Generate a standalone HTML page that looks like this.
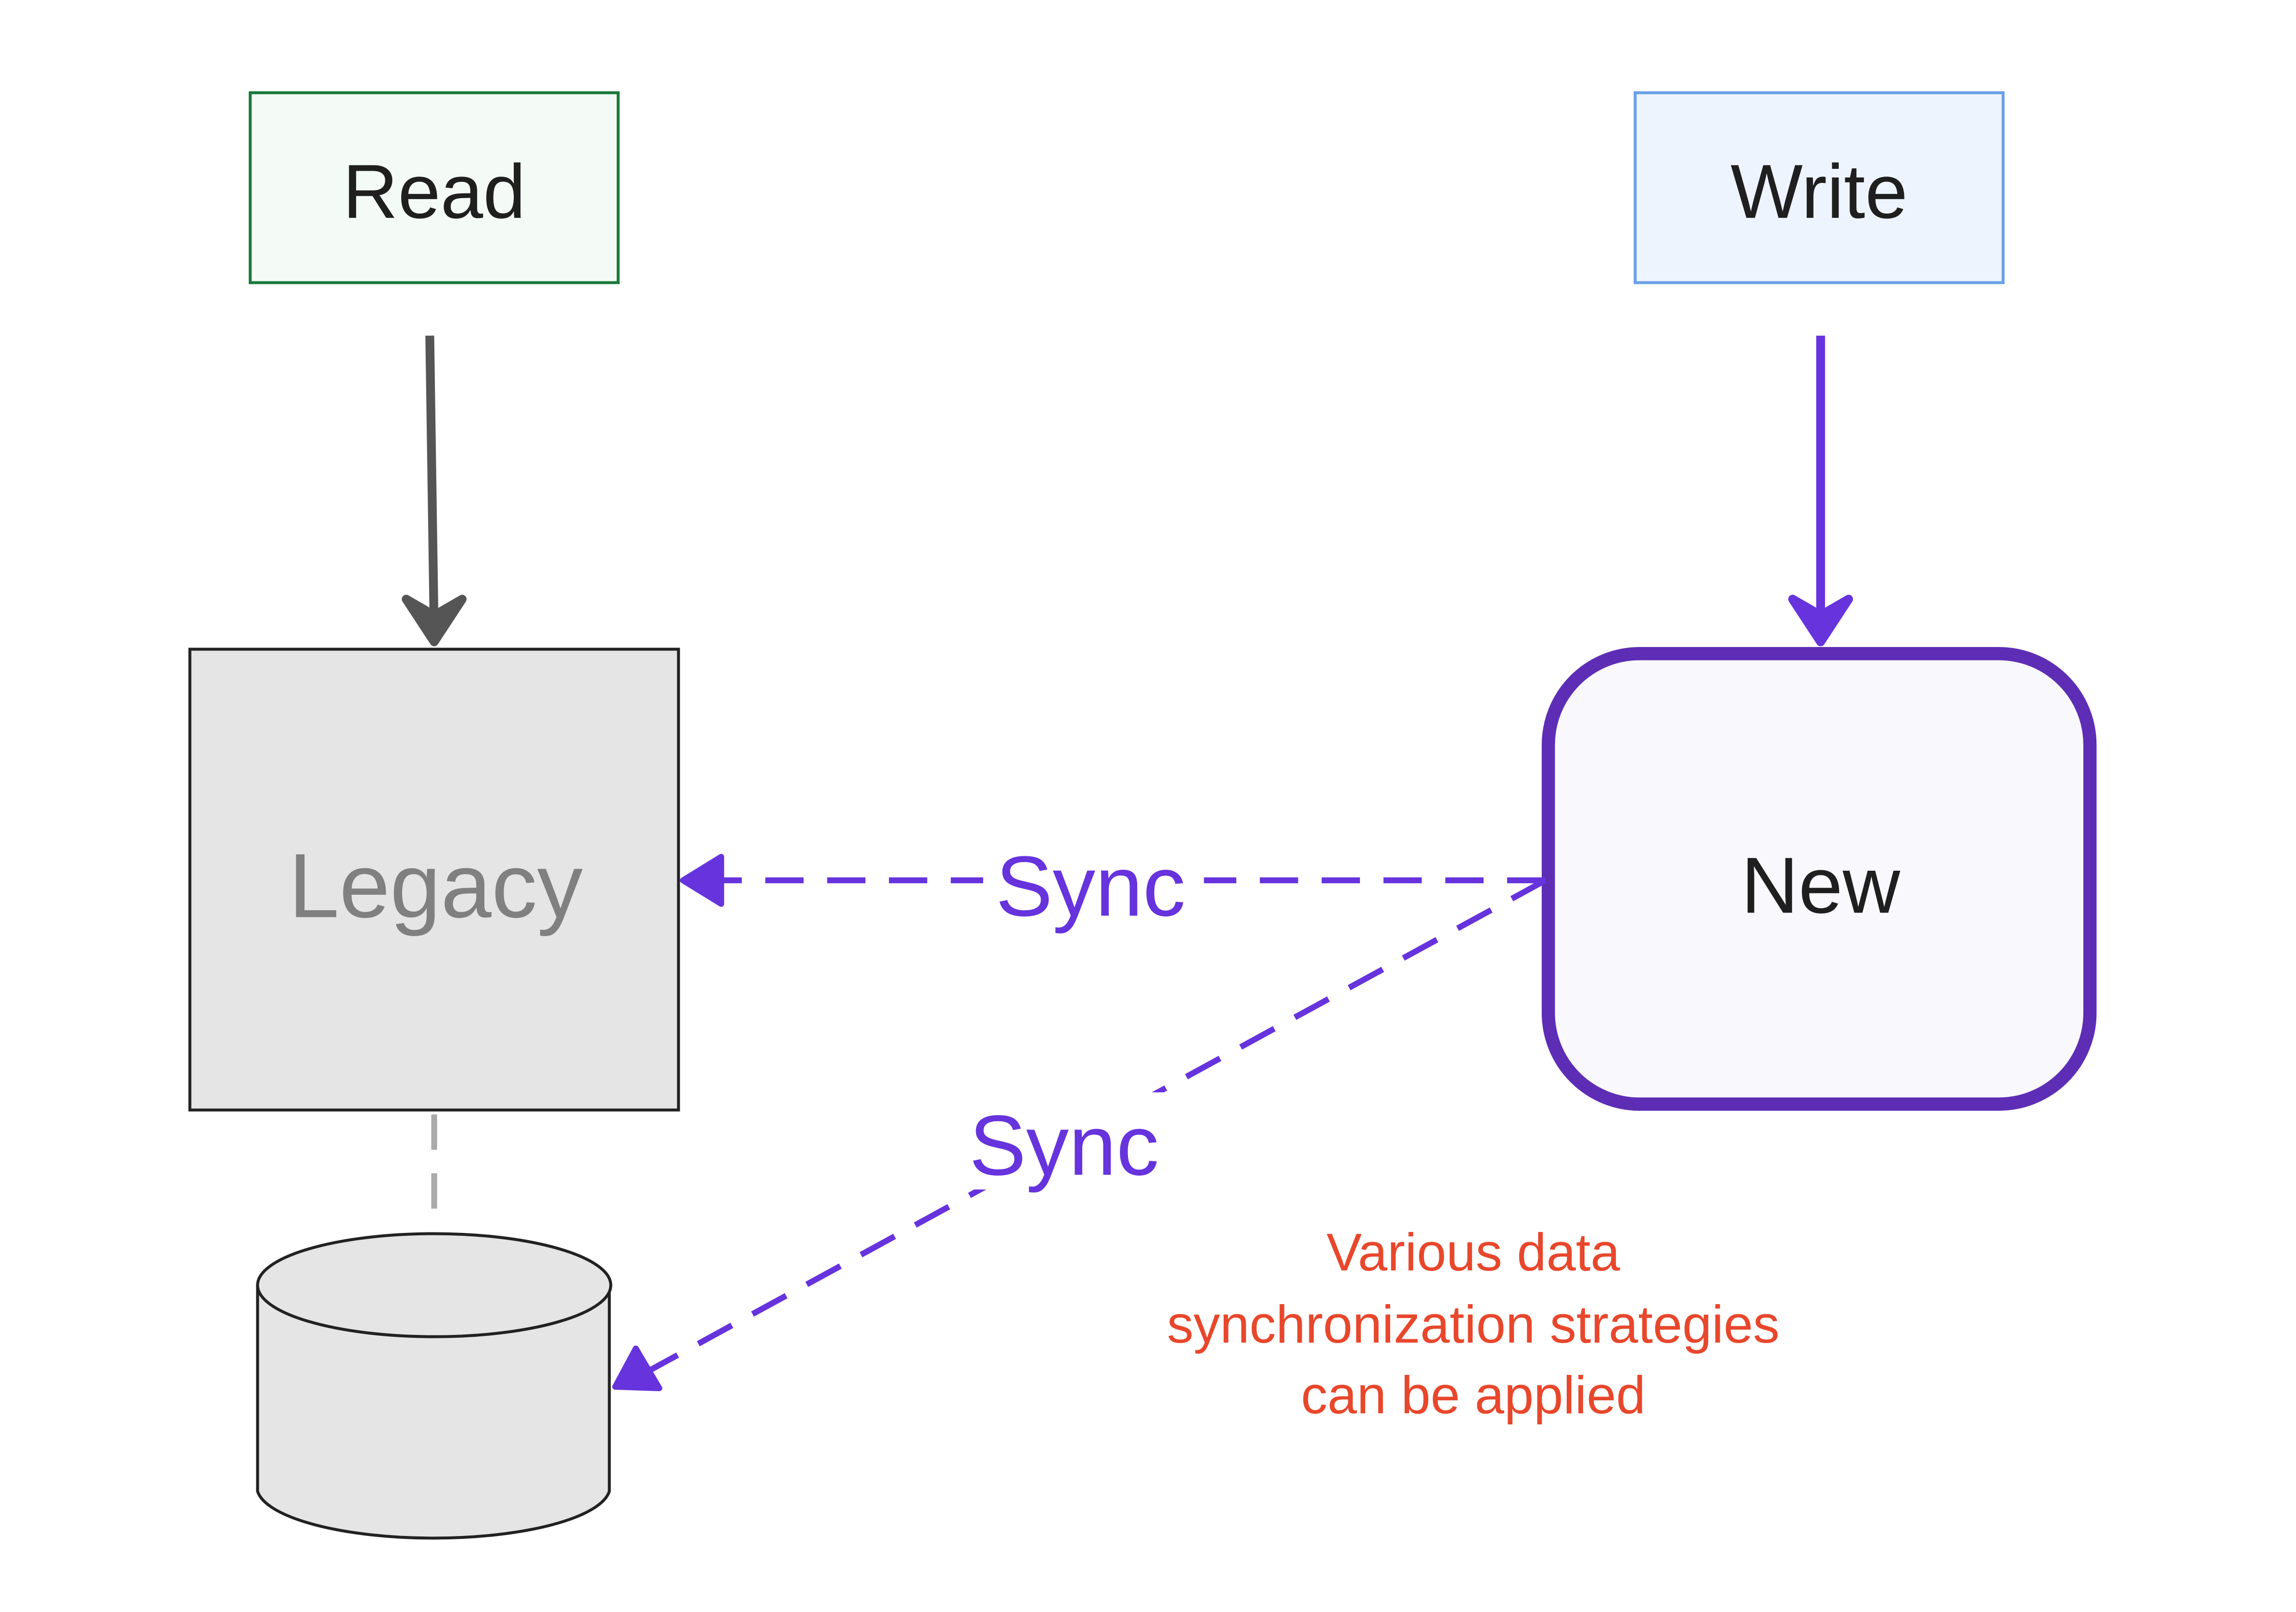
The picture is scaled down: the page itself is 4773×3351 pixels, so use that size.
<!DOCTYPE html>
<html><head><meta charset="utf-8"><style>
html,body{margin:0;padding:0;background:#fff;}
svg{display:block;}
text{font-family:"Liberation Sans","DejaVu Sans",sans-serif;}
</style></head><body>
<svg width="4773" height="3351" viewBox="0 0 1560 1095" preserveAspectRatio="none" xmlns="http://www.w3.org/2000/svg">
<rect x="0" y="0" width="1560" height="1095" fill="#fff"/>
<rect x="170" y="63" width="250" height="129" fill="#f4fbf6" stroke="#1a7a3a" stroke-width="2"/>
<text x="295" y="148" font-size="52" text-anchor="middle" fill="#1f1f1f">Read</text>
<rect x="1111" y="63" width="250" height="129" fill="#eef4fd" stroke="#6aa0e8" stroke-width="2"/>
<text x="1236" y="148" font-size="52" text-anchor="middle" fill="#1f1f1f">Write</text>
<line x1="292" y1="228" x2="295" y2="430" stroke="#555" stroke-width="6"/>
<path d="M276 407 L295 436 L314 407 L295 418 Z" fill="#555" stroke="#555" stroke-width="6" stroke-linejoin="round" stroke-linecap="round"/>
<line x1="1237" y1="228" x2="1237" y2="430" stroke="#6633dd" stroke-width="6"/>
<path d="M1218 407 L1237 436 L1256 407 L1237 418 Z" fill="#6633dd" stroke="#6633dd" stroke-width="6" stroke-linejoin="round" stroke-linecap="round"/>
<rect x="129" y="441" width="332" height="313" fill="#e5e5e5" stroke="#222" stroke-width="2"/>
<text x="296" y="623" font-size="62" text-anchor="middle" fill="#808080">Legacy</text>
<rect x="1052" y="444" width="368" height="306" rx="62" ry="62" fill="#f8f8fd" stroke="#5e2db5" stroke-width="9"/>
<text x="1237" y="620" font-size="54" text-anchor="middle" fill="#1f1f1f">New</text>
<line x1="295" y1="757" x2="295" y2="838" stroke="#aaa" stroke-width="4" stroke-dasharray="24 16"/>
<path d="M175 873 L175 1013 A120 35 0 0 0 414 1013 L414 873" fill="#e5e5e5" stroke="#222" stroke-width="2"/>
<ellipse cx="295" cy="873" rx="120" ry="35" fill="#e5e5e5" stroke="#222" stroke-width="2"/>
<line x1="1050" y1="598" x2="478" y2="598" stroke="#6633dd" stroke-width="4" stroke-dasharray="26 16"/>
<path d="M490 582 L464 598 L490 614 Z" fill="#6633dd" stroke="#6633dd" stroke-width="4" stroke-linejoin="round"/>
<rect x="668" y="568" width="150" height="60" fill="#fff"/>
<text x="741" y="622" font-size="58" text-anchor="middle" fill="#6633dd">Sync</text>
<line x1="1050" y1="598" x2="432" y2="936" stroke="#6633dd" stroke-width="4" stroke-dasharray="26 16"/>
<path d="M432 916 L418 942 L448 943 Z" fill="#6633dd" stroke="#6633dd" stroke-width="4" stroke-linejoin="round"/>
<rect x="652" y="742" width="142" height="66" fill="#fff"/>
<text x="723" y="798" font-size="58" text-anchor="middle" fill="#6633dd">Sync</text>
<text x="1001" y="863" font-size="36" text-anchor="middle" fill="#e8472c">Various data</text>
<text x="1001" y="912" font-size="36" text-anchor="middle" fill="#e8472c">synchronization strategies</text>
<text x="1001" y="960" font-size="36" text-anchor="middle" fill="#e8472c">can be applied</text>
</svg>
</body></html>
